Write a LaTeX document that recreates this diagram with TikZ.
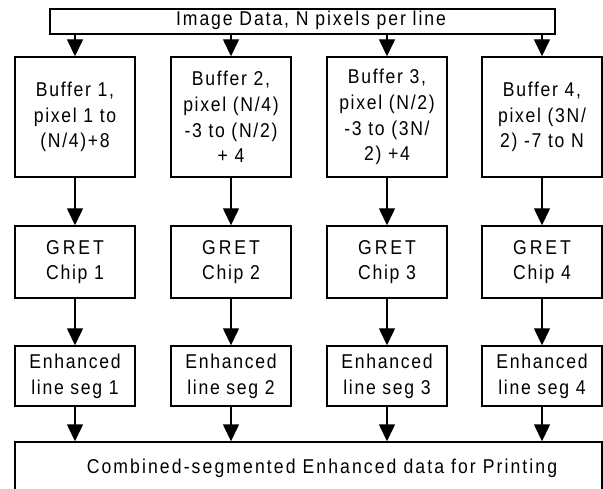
\documentclass[tikz,border=0pt]{standalone}
\usepackage{fontspec}
\setmainfont{Liberation Sans}[LetterSpace=8.5,FakeStretch=0.88]
\usetikzlibrary{arrows.meta}
\newcommand{\gretword}{{\addfontfeature{LetterSpace=14.5}GRET}}
\begin{document}
\begin{tikzpicture}[x=1pt,y=-1pt,
  blk/.style={draw, line width=1.4pt, inner sep=0pt, align=center,
    minimum width=120pt, font=\fontsize{20}{25.8}\selectfont},
  txt/.style={inner sep=0pt, font=\fontsize{20}{25.8}\selectfont},
  arr/.style={line width=1.4pt, -{Triangle[width=16pt,length=17pt]}}]
\useasboundingbox (0,0) rectangle (603,489);
\clip (0,0) rectangle (603,489);
% top
\node[blk, minimum width=505pt, minimum height=25pt] (top) at (302.5,21.5) {};
\node[txt, anchor=base] (toptxt) at (311,26) {\addfontfeature{LetterSpace=9.5}Image Data, N pixels per line};
% buffers
\node[blk, minimum height=120pt] (b1) at (75,117) {Buffer 1,\\pixel 1 to\\(N/4)+8};
\node[blk, minimum height=120pt] (b2) at (231,117) {Buffer 2,\\pixel (N/4)\\-3 to (N/2)\\+ 4};
\node[blk, minimum height=120pt] (b3) at (387,117) {Buffer 3,\\pixel (N/2)\\-3 to (3N/\\2) +4};
\node[blk, minimum height=120pt] (b4) at (542,117) {Buffer 4,\\pixel (3N/\\2) -7 to N};
% GRET
\node[blk, minimum height=72pt] (g1) at (75,262) {\gretword\\Chip 1};
\node[blk, minimum height=72pt] (g2) at (231,262) {\gretword\\Chip 2};
\node[blk, minimum height=72pt] (g3) at (387,262) {\gretword\\Chip 3};
\node[blk, minimum height=72pt] (g4) at (542,262) {\gretword\\Chip 4};
% Enhanced
\node[blk, minimum height=60pt] (e1) at (75,376) {Enhanced\\line seg 1};
\node[blk, minimum height=60pt] (e2) at (231,376) {Enhanced\\line seg 2};
\node[blk, minimum height=60pt] (e3) at (387,376) {Enhanced\\line seg 3};
\node[blk, minimum height=60pt] (e4) at (542,376) {Enhanced\\line seg 4};
% bottom
\node[blk, minimum width=587pt, minimum height=49pt] (bot) at (308.5,466.5) {};
\node[txt, anchor=base] (bottxt) at (322,473) {\addfontfeature{LetterSpace=10.5}Combined-segmented Enhanced data for Printing};
% arrows
\foreach \i in {1,2,3,4}{
  \draw[arr] (b\i |- top.south) -- (b\i.north);
  \draw[arr] (b\i.south) -- (g\i.north);
  \draw[arr] (g\i.south) -- (e\i.north);
  \draw[arr] (e\i.south) -- (e\i |- bot.north);
}
\end{tikzpicture}
\end{document}
